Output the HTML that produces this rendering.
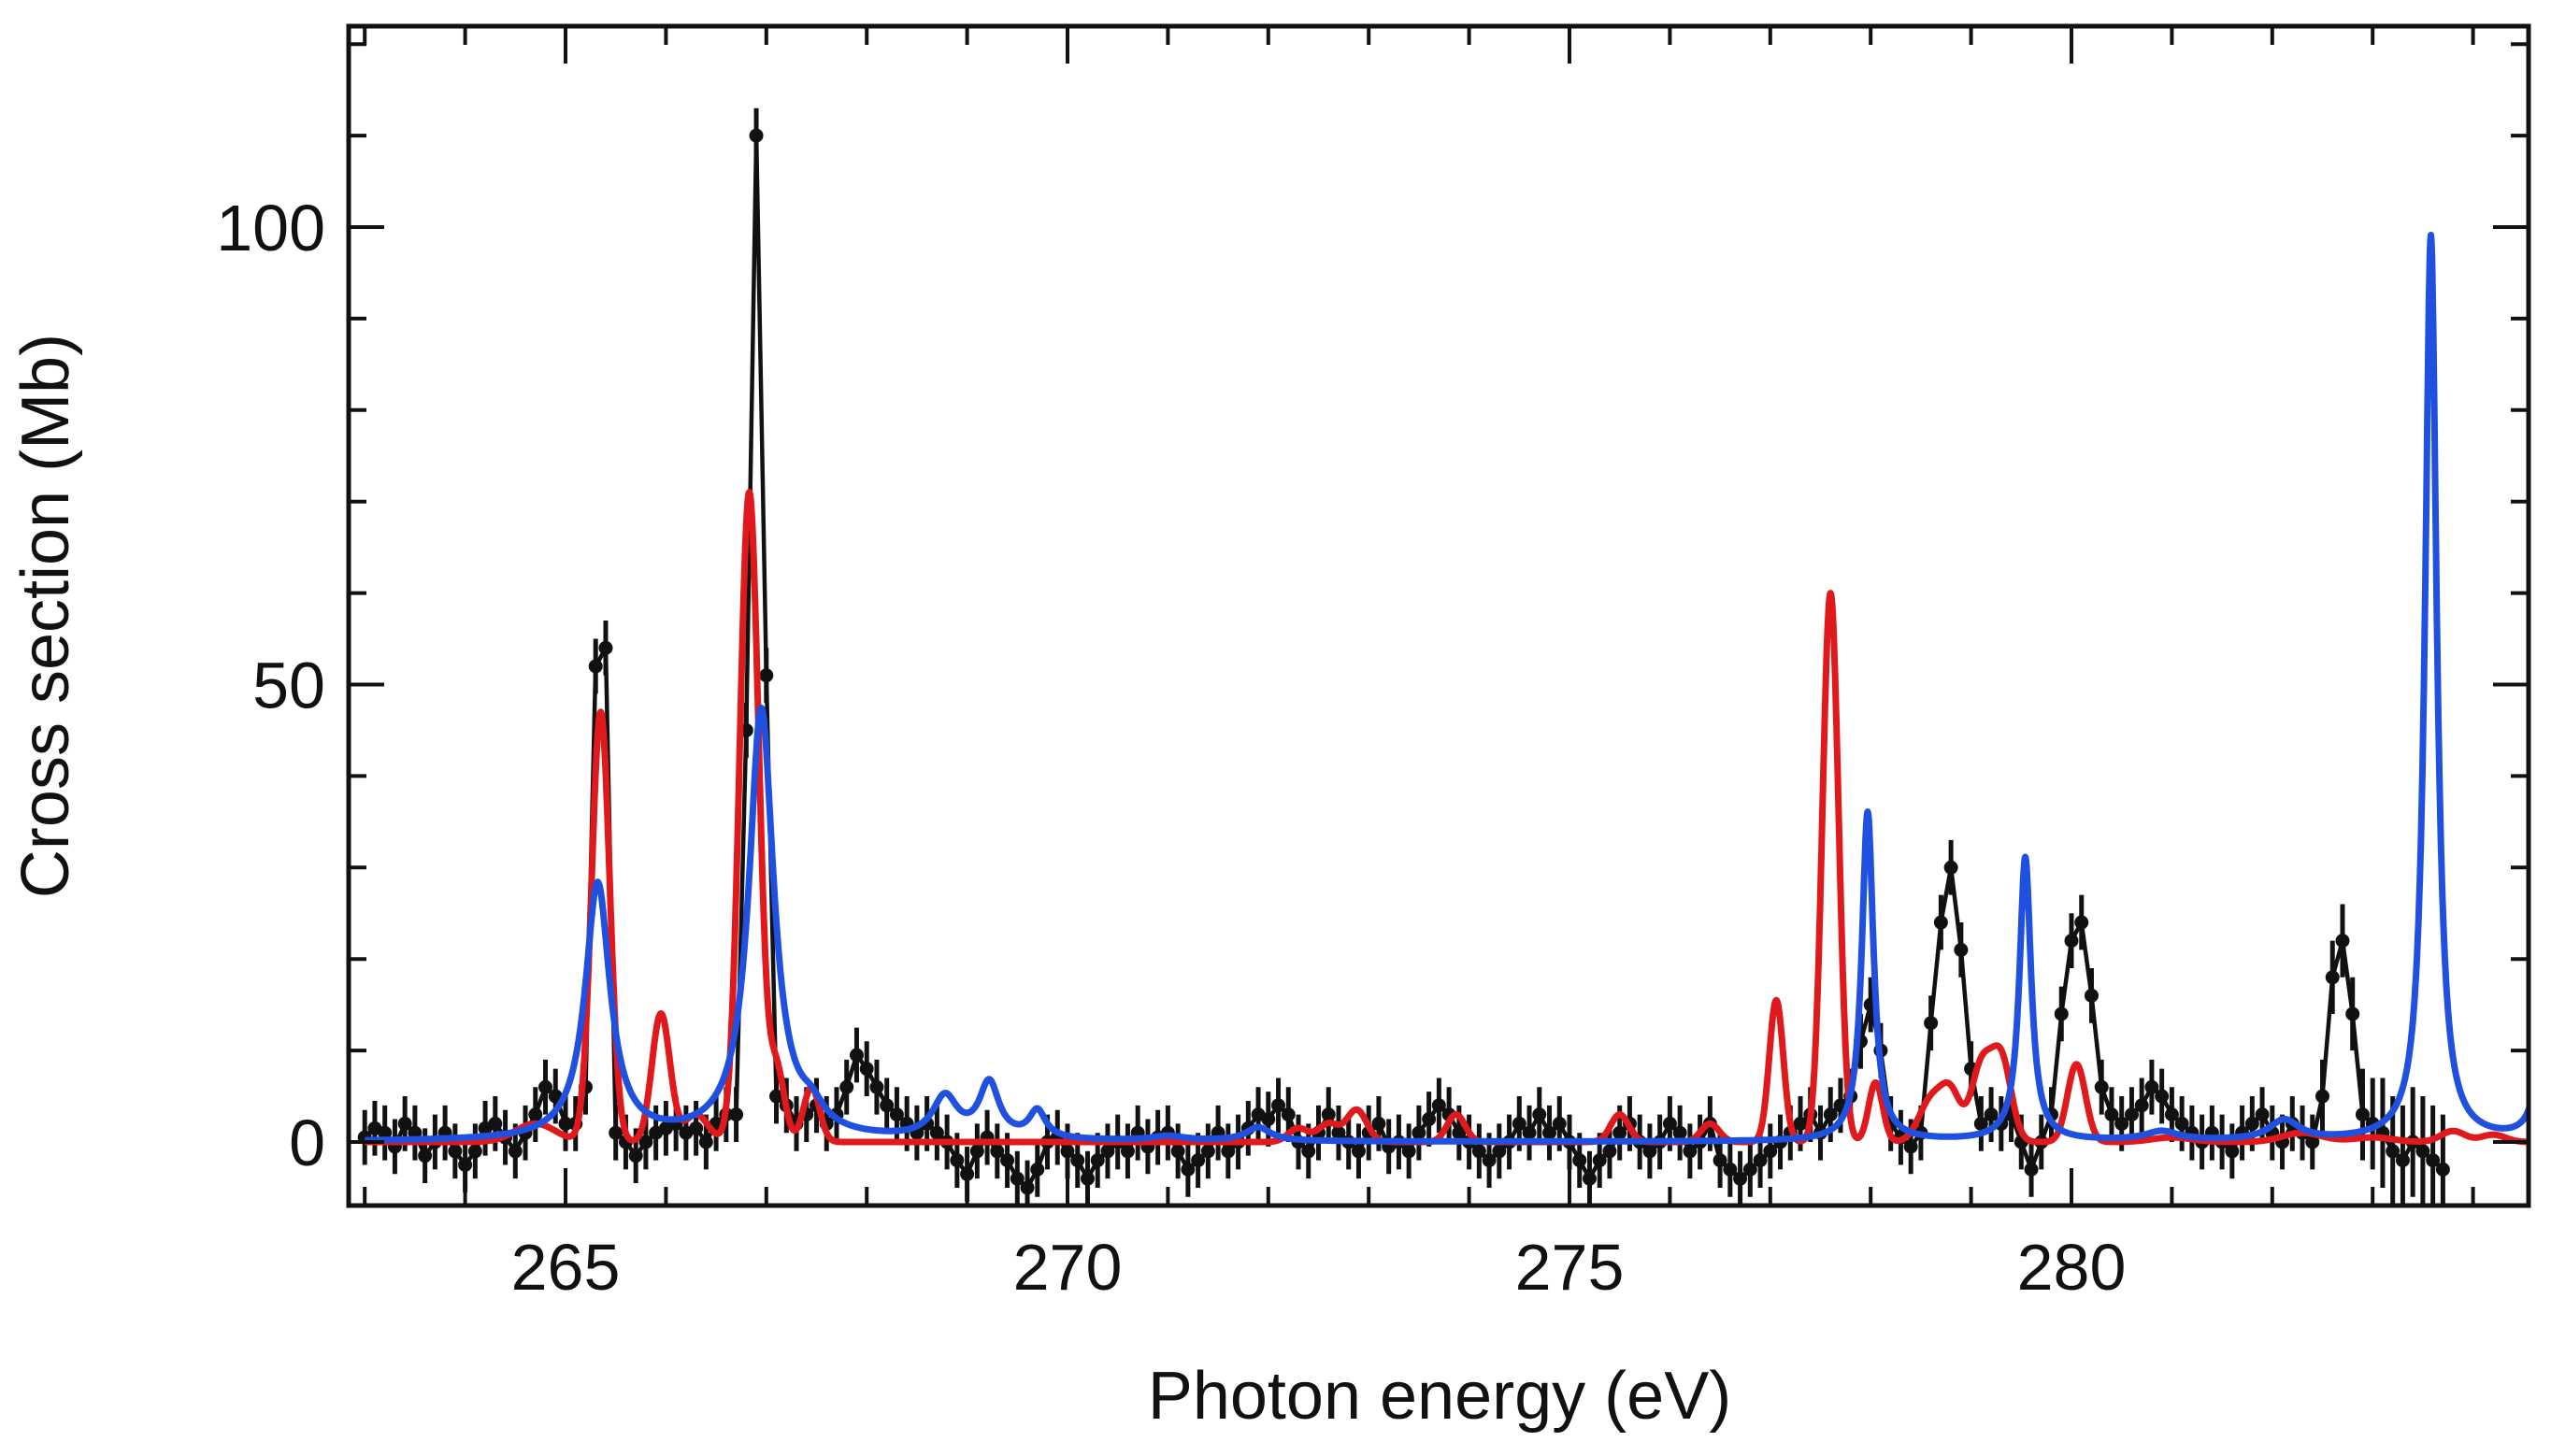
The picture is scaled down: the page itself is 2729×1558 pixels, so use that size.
<!DOCTYPE html>
<html>
<head>
<meta charset="utf-8">
<style>
html,body{margin:0;padding:0;background:#fff;}
svg{display:block;}
text{font-family:"Liberation Sans",Arial,sans-serif;fill:#111;}
</style>
</head>
<body>
<svg id="chart" width="2729" height="1558" viewBox="0 0 2729 1558" xmlns="http://www.w3.org/2000/svg">
  <g id="plot"></g>
  <rect x="373" y="28" width="2332" height="1262" fill="none" stroke="#111" stroke-width="5"/>
  <g id="ticks"></g>
  <text x="1540" y="1518" font-size="72" text-anchor="middle">Photon energy (eV)</text>
  <text x="0" y="0" font-size="72" text-anchor="middle" transform="translate(73,659) rotate(-90)">Cross section (Mb)</text>
</svg>
<script>
// ---- data ----
const xTickValues = [265, 270, 275, 280];
const xTickLabels = ["265", "270", "275", "280"];
const yTickValues = [0, 50, 100];
const yTickLabels = ["0", "50", "100"];

// experiment: values at 263.0 + i*0.1 eV
const expStart = 263.0;
const expStep = 0.1;
const expValues = [
 0.5,1.5,1,-0.5,2,1,-1.5,0,1,-1,
 -2.5,-1,1.5,2,0.5,-1,1,3,6,5,
 2,2,6,52,54,1,0,-1.5,0,1,
 1.5,2,1,1.5,0,2,3,3,45,110,
 51,5,4,2,3,4,2,3,6,9.5,
 8,6,4,3,2,1,2,1,0,-2,
 -3.5,-1,0.5,-1,-2,-4,-5,-3,0,0.5,
 -1,-2,-4,-2,-1,0,-1,1,-0.5,0.5,
 1,-1,-3,-2,-1,1,-1,0,1.5,3,
 2.5,4,3,0,-1,1,3,1,0,-1,
 1,2,-0.5,0,-1,1,2.5,4,3,1,
 0,-1,-2,-1,0,2,1,3,1,2,
 0,-2,-4,-2,-1,1,2,0,-1,0,
 2,1,-1,0,2,-2,-3,-4,-3,-2,
 -1,0,1,2,3,1,3,4,5,11,
 15,10,2,0.5,-0.5,1,13,24,30,21,
 8,2,3,2,3,0,-3,0,3,14,
 22,24,16,6,3,2,3,4,6,5,
 3,2,1,0,1,0,-1,1,2,3,
 1,0,2,1,0,5,18,22,14,3,
 2,1,-1,-2,0,-1,-2,-3
];
const expErrors = [
 3,3,3,3,3,3,3,3,3,3,
 3,3,3,3,3,3,3,3,3,3,
 3,3,3,3,3,3,3,3,3,3,
 3,3,3,3,3,3,3,3,3,3,
 3,3,3,3,3,3,3,3,3,3,
 3,3,3,3,3,3,3,3,3,3,
 3,3,3,3,3,3,3,3,3,3,
 3,3,3,3,3,3,3,3,3,3,
 3,3,3,3,3,3,3,3,3,3,
 3,3,3,3,3,3,3,3,3,3,
 3,3,3,3,3,3,3,3,3,3,
 3,3,3,3,3,3,3,3,3,3,
 3,3,3,3,3,3,3,3,3,3,
 3,3,3,3,3,3,3,3,3,3,
 3,3,3,3,3,3,3,3,3,3,
 3,3,3,3,3,3,3,3,3,3,
 3,3,3,3,3,3,3,3,3,3,
 3,3,3,3,3,3,3,3,3,3,
 3,3,3,3,3,3,3,3,3,3,
 3,3,3,3,3,4,4,4,4,5,
 5,6,6,6,6,6,6,6
];

// red theory: gaussian peaks
const redPos    = [264.7,265.35,265.95,266.3,266.83,267.1,267.45,272.3,272.6,272.88,273.87,275.5,276.4,277.06,277.6,278.05,278.6,278.8,279.1,279.3,280.05,281.0,282.3,283.0,283.8,284.2];
const redHeight = [2,47,14,3,71,8,6,1.5,2,3.5,3,3,2,15.5,60,6.5,4.5,5,8,9,8.5,0.5,1,0.5,1.2,0.8];
const redSigma  = [0.2,0.09,0.09,0.12,0.095,0.08,0.08,0.1,0.1,0.1,0.09,0.09,0.09,0.07,0.08,0.07,0.12,0.1,0.1,0.1,0.09,0.2,0.2,0.2,0.12,0.12];

// blue theory: lorentzian peaks
const bluePos    = [265.32,266.95,267.45,268.78,269.22,269.7,271.0,271.9,277.97,279.54,280.9,282.12,283.58,284.72];
const blueHeight = [28,47,2,4.5,6,3,0.5,1.5,36,31,1,2.2,99,20];
const blueHW     = [0.15,0.15,0.15,0.15,0.12,0.1,0.2,0.15,0.07,0.07,0.2,0.18,0.07,0.07];

// ---- axes ----
const X0 = 605, XPX = 107.4, E0 = 265;
const Y0 = 1222, YPX = 9.79;
function xs(e){ return X0 + (e - E0) * XPX; }
function ys(v){ return Y0 - v * YPX; }
const NS = "http://www.w3.org/2000/svg";
function mk(tag, attrs, parent){
  const el = document.createElementNS(NS, tag);
  for (const k in attrs) el.setAttribute(k, attrs[k]);
  parent.appendChild(el);
  return el;
}
const plot = document.getElementById('plot');
const ticks = document.getElementById('ticks');
const L = 373, R = 2705, T = 28, B = 1290;

const defs = mk('defs', {}, plot);
const cp = mk('clipPath', {id:'clip'}, defs);
mk('rect', {x:L, y:T, width:R-L, height:B-T}, cp);

for (let e = 263; e <= 284; e++){
  const major = xTickValues.indexOf(e) >= 0;
  const len = major ? 40 : 20;
  const x = xs(e);
  let t = mk('line', {x1:x, x2:x, y1:B, y2:B-len, stroke:'#111','stroke-width':4}, ticks);
  
  
  t = mk('line', {x1:x, x2:x, y1:T, y2:T+len, stroke:'#111','stroke-width':4}, ticks);
  
  
}
xTickValues.forEach((v, i) => {
  const t = mk('text', {x:xs(v), y:1380, 'font-size':70, 'text-anchor':'middle'}, ticks);
  t.textContent = xTickLabels[i];
  
  
});
for (let v = 0; v <= 120; v += 10){
  const major = yTickValues.indexOf(v) >= 0;
  const len = major ? 38 : 19;
  const y = ys(v);
  let t = mk('line', {x1:L, x2:L+len, y1:y, y2:y, stroke:'#111','stroke-width':4}, ticks);
  
  
  t = mk('line', {x1:R, x2:R-len, y1:y, y2:y, stroke:'#111','stroke-width':4}, ticks);
  
  
}
yTickValues.forEach((v, i) => {
  const t = mk('text', {x:348, y:ys(v)+25, 'font-size':70, 'text-anchor':'end'}, ticks);
  t.textContent = yTickLabels[i];
  
  
});

// experiment
const gExp = mk('g', {'clip-path':'url(#clip)'}, plot);


let d = '';
expValues.forEach((v, i) => {
  const e = expStart + i * expStep;
  d += (i ? 'L' : 'M') + xs(e).toFixed(1) + ' ' + ys(v).toFixed(1);
});
const expLine = mk('path', {d:d, fill:'none', stroke:'#111', 'stroke-width':4.5, 'stroke-linejoin':'round'}, gExp);


expValues.forEach((v, i) => {
  const e = expStart + i * expStep;
  const x = xs(e), err = expErrors[i];
  const eb = mk('line', {x1:x, x2:x, y1:ys(v+err), y2:ys(v-err), stroke:'#111', 'stroke-width':5}, gExp);
  
  
  const p = mk('circle', {cx:x, cy:ys(v), r:7.5, fill:'#111'}, gExp);
  
  
});

function curve(pos, h, w, lor){
  let s = '';
  let first = true;
  for (let e = 263.0; e <= 284.56; e += 0.005){
    let v = 0;
    for (let k = 0; k < pos.length; k++){
      const dx = e - pos[k];
      if (lor) v += h[k] * w[k]*w[k] / (dx*dx + w[k]*w[k]);
      else v += h[k] * Math.exp(-dx*dx / (2*w[k]*w[k]));
    }
    s += (first ? 'M' : 'L') + xs(e).toFixed(1) + ' ' + ys(v).toFixed(1);
    first = false;
  }
  return s;
}
const red = mk('path', {d:curve(redPos, redHeight, redSigma, false), fill:'none', stroke:'#e0191c', 'stroke-width':7, 'stroke-linejoin':'round', 'clip-path':'url(#clip)'}, plot);


const blue = mk('path', {d:curve(bluePos, blueHeight, blueHW, true), fill:'none', stroke:'#1f50e0', 'stroke-width':7, 'stroke-linejoin':'round', 'clip-path':'url(#clip)'}, plot);


</script>
</body>
</html>
